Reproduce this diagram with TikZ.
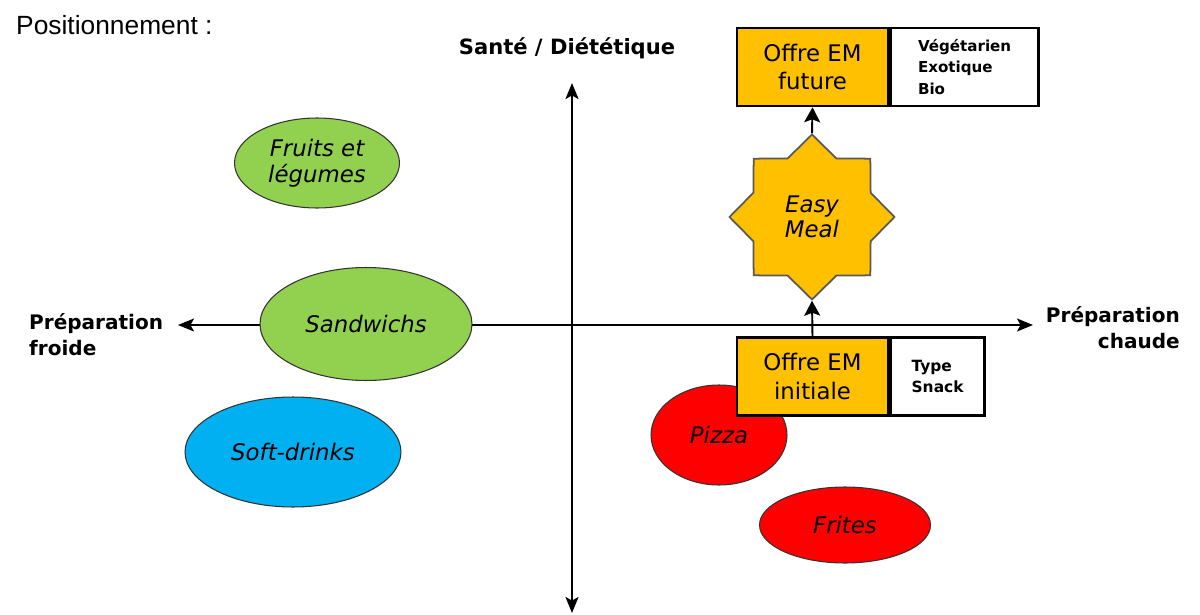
\documentclass[tikz,border=0pt]{standalone}
\usepackage{fontspec}
\setmainfont{DejaVu Sans}
\newfontfamily\arialfont{Liberation Sans}
\usetikzlibrary{shapes.geometric,arrows.meta,positioning}
\definecolor{emorange}{HTML}{FFC000}
\definecolor{emgreen}{HTML}{92D050}
\definecolor{emblue}{HTML}{00B0F0}
\definecolor{emred}{HTML}{FF0000}
\tikzset{
  food/.style={ellipse, draw=black!80, line width=0.6pt, inner sep=0pt, align=center,
    font=\fontsize{13}{14.8}\selectfont\itshape},
  offre/.style={draw, line width=1.5pt, fill=emorange, minimum width=3.02cm, minimum height=1.56cm,
    inner sep=0pt, align=center, font=\fontsize{13}{16}\selectfont},
  note/.style={draw, line width=1.5pt, fill=white, minimum height=1.56cm, inner sep=0pt, align=left},
  axe/.style={{Stealth[length=3.2mm,width=2.6mm,inset=0.7mm]}-{Stealth[length=3.2mm,width=2.6mm,inset=0.7mm]}},
  fleche/.style={-{Stealth[length=3mm,width=3.2mm,inset=0.6mm]}, line width=1.1pt},
  axelabel/.style={font=\fontsize{11.4}{14.8}\selectfont\bfseries}
}
\begin{document}
\begin{tikzpicture}[x=0.02cm,y=-0.02cm]
\useasboundingbox (0,0) rectangle (1200,615);

\node[anchor=west, font=\arialfont\fontsize{15}{18}\selectfont] (titre) at (10,25) {Positionnement :};
\node[font=\fontsize{12}{14}\selectfont\bfseries] (sante) at (567,48) {Santé / Diététique};
\node[axelabel, align=left, anchor=west] (froide) at (23,335) {Préparation\\froide};
\node[axelabel, align=right, anchor=east] (chaude) at (1186,328) {Préparation\\chaude};

% axes
\coordinate (haut) at (572,83);
\coordinate (bas) at (572,613);
\coordinate (gauche) at (178,325);
\coordinate (droite) at (1033,325);
\draw[axe, line width=1pt] (haut) -- (bas);
\draw[axe, line width=0.8pt] (gauche) -- (droite);

% produits
\node[food, fill=emgreen, minimum width=3.3cm, minimum height=1.8cm] (fruits) at (317,163) {Fruits et\\légumes};
\node[food, fill=emgreen, minimum width=4.24cm, minimum height=2.26cm] (sandwichs) at (366,324) {Sandwichs};
\node[food, fill=emblue, minimum width=4.32cm, minimum height=2.2cm] (soft) at (293,452) {Soft-drinks};
\node[food, fill=emred, minimum width=2.72cm, minimum height=2cm] (pizza) at (719,435) {Pizza};
\node[food, fill=emred, minimum width=3.42cm, minimum height=1.52cm] (frites) at (845,525) {Frites};

% offres
\node[offre] (future) at (812.5,67) {Offre EM\\future};
\node[note, minimum width=2.96cm, right=0pt of future, font=\fontsize{8.6}{12}\selectfont\bfseries] (futurenote) {Végétarien\\Exotique\\Bio};
\node[offre] (initiale) at (812.5,376.5) {Offre EM\\initiale};
\node[note, minimum width=1.88cm, right=0pt of initiale, font=\fontsize{8.8}{11.5}\selectfont\bfseries] (initialenote) {Type\\Snack};

\node[star, star points=8, star point ratio=1.3, minimum size=3.3cm, inner sep=0pt, fill=emorange,
  draw=black!65, line width=1pt, align=center, font=\fontsize{13}{14}\selectfont\itshape] (easy) at (812,217) {Easy\\Meal};

\draw[fleche] (initiale.north) -- (easy.south);
\draw[fleche] (easy.north) -- (future.south);

\end{tikzpicture}
\end{document}
